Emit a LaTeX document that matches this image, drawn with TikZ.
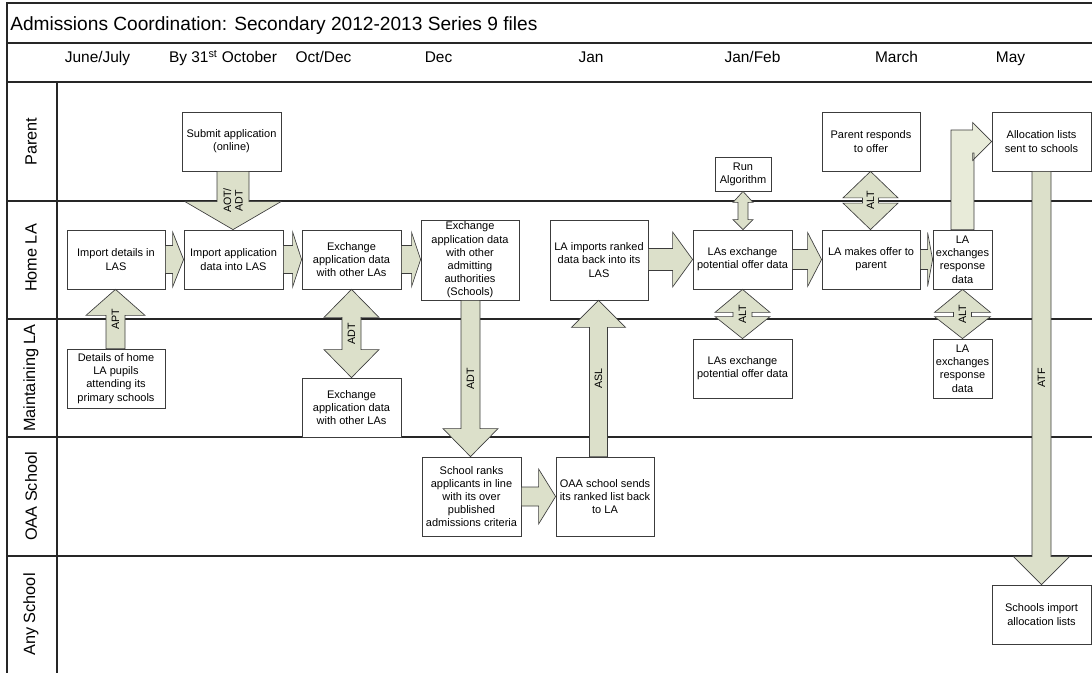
\documentclass[tikz,border=0pt]{standalone}
\usepackage{fontspec}
\setmainfont{Liberation Sans}
\usetikzlibrary{calc}
\definecolor{arrowfill}{HTML}{DCE0CA}
\definecolor{arrowfillb}{HTML}{E8EBD9}
\definecolor{edgecol}{HTML}{3C3C3C}
\definecolor{linecol}{HTML}{262626}
\tikzset{
  procbox/.style 2 args={draw=edgecol, line width=0.6pt, fill=white, align=center,
    inner sep=1pt, minimum width=#1*0.75pt, minimum height=#2*0.75pt,
    font=\fontsize{8.25}{9.9}\selectfont},
  barrow/.style={draw=edgecol, fill=arrowfill, line width=0.5pt, line join=miter},
  barrowlight/.style={barrow, fill=arrowfillb},
  lanelabel/.style={rotate=90, font=\fontsize{12.2}{14}\selectfont},
  hdr/.style={font=\fontsize{11.6}{14}\selectfont, anchor=base},
  alabel/.style={rotate=90, font=\fontsize{8}{8.6}\selectfont, align=center, inner sep=0pt},
  laneline/.style={draw=linecol, line width=1.1pt},
}
% vertical single block arrow: x, start anchor, tip anchor, shaft half, head half, signed head offset, label
\newcommand\vsingle[7]{%
  \coordinate (vx) at (#1,0);
  \draw[barrow] ($(vx|-#2)+(-#4,0)$) -- ($(vx|-#3)+(-#4,#6)$) -- ($(vx|-#3)+(-#5,#6)$)
    -- (vx|-#3) -- ($(vx|-#3)+(#5,#6)$) -- ($(vx|-#3)+(#4,#6)$) -- ($(vx|-#2)+(#4,0)$) -- cycle;
  \node[alabel] at ($(vx|-#2)!0.5!(vx|-#3)$) {#7};}
% vertical double block arrow: x, top anchor, bottom anchor, shaft half, head half, top head len, bottom head len, label
\newcommand\vdouble[8]{%
  \coordinate (vx) at (#1,0);
  \draw[barrow] (vx|-#2) -- ($(vx|-#2)+(#5,#6)$) -- ($(vx|-#2)+(#4,#6)$) -- ($(vx|-#3)+(#4,-#7)$)
    -- ($(vx|-#3)+(#5,-#7)$) -- (vx|-#3) -- ($(vx|-#3)+(-#5,-#7)$) -- ($(vx|-#3)+(-#4,-#7)$)
    -- ($(vx|-#2)+(-#4,#6)$) -- ($(vx|-#2)+(-#5,#6)$) -- cycle;
  \node[alabel] at ($(vx|-#2)!0.5!(vx|-#3)$) {#8};}
% horizontal single block arrow (to the right): y, start anchor, tip anchor, shaft half, head half, head length
\newcommand\hsingle[6]{%
  \coordinate (hy) at (0,#1);
  \draw[barrow] ($(#2|-hy)+(0,-#4)$) -- ($(#3|-hy)+(-#6,-#4)$) -- ($(#3|-hy)+(-#6,-#5)$)
    -- (#3|-hy) -- ($(#3|-hy)+(-#6,#5)$) -- ($(#3|-hy)+(-#6,#4)$) -- ($(#2|-hy)+(0,#4)$) -- cycle;}
\begin{document}
\begin{tikzpicture}[x=0.75pt,y=-0.75pt]
\useasboundingbox (0,0) rectangle (1092,673);
% frame and lanes
\draw[laneline] (7,673) -- (7,3) -- (1092,3);
\draw[laneline] (7,43) -- (1092,43);
\draw[laneline] (7,82) -- (1092,82);
\draw[laneline] (57,82) -- (57,673);
\foreach \yy in {201,319,437,556} \draw[laneline] (7,\yy) -- (1092,\yy);
% title and header
\node[anchor=base west, inner sep=0pt, font=\fontsize{14.35}{16}\selectfont] (title) at (10,30.5)
  {Admissions Coordination: Secondary 2012-2013 Series 9 files};
\node[hdr] (h1) at (97.5,63) {June/July};
\node[hdr] (h2) at (223,63) {By 31\textsuperscript{st} October};
\node[hdr] (h3) at (323.5,63) {Oct/Dec};
\node[hdr] (h4) at (438.5,63) {Dec};
\node[hdr] (h5) at (591,63) {Jan};
\node[hdr] (h6) at (752.5,63) {Jan/Feb};
\node[hdr] (h7) at (896.5,63) {March};
\node[hdr] (h8) at (1010.5,63) {May};
% lane labels
\node[lanelabel] (l1) at (31,141.5) {Parent};
\node[lanelabel] (l2) at (31,258) {Home LA};
\node[lanelabel] (l3) at (31,378) {Maintaining LA};
\node[lanelabel] (l4) at (31,496.5) {OAA School};
\node[lanelabel] (l5) at (31,614.5) {Any School};
% boxes
\node[procbox={99}{59}] (sub) at (231.5,141.5) {Submit application\\(online)};
\node[procbox={98}{59}] (imd) at (116,259.5) {Import details in\\LAS};
\node[procbox={99}{59}] (ima) at (233.5,259.5) {Import application\\data into LAS};
\node[procbox={99}{59}] (exh) at (351.5,259.5) {Exchange\\application data\\with other LAs};
\node[procbox={98}{80}] (exa) at (470,260) {Exchange\\application data\\with other\\admitting\\authorities\\(Schools)};
\node[procbox={98}{80}] (lai) at (599,260) {LA imports ranked\\data back into its\\LAS};
\node[procbox={56}{34}] (run) at (743,174) {Run\\Algorithm};
\node[procbox={99}{59}] (lxh) at (742.5,259.5) {LAs exchange\\potential offer data};
\node[procbox={98}{59}] (pro) at (871,141.5) {Parent responds\\to offer};
\node[procbox={99}{59}] (alloc) at (1041.5,141.5) {Allocation lists\\sent to schools};
\node[procbox={98}{59}] (lmo) at (871,259.5) {LA makes offer to\\parent};
\node[procbox={59}{59}] (ler) at (962.5,259.5) {LA\\exchanges\\response\\data};
\node[procbox={98}{59}] (det) at (116,378.5) {Details of home\\LA pupils\\attending its\\primary schools};
\node[procbox={99}{59}] (exm) at (351.5,407.5) {Exchange\\application data\\with other LAs};
\node[procbox={99}{79}] (srk) at (471.5,496.5) {School ranks\\applicants in line\\with its over\\published\\admissions criteria};
\node[procbox={98}{79}] (oaa) at (605,496.5) {OAA school sends\\its ranked list back\\to LA};
\node[procbox={99}{59}] (lxm) at (742.5,368.5) {LAs exchange\\potential offer data};
\node[procbox={59}{59}] (lem) at (962.5,368.5) {LA\\exchanges\\response\\data};
\node[procbox={99}{59}] (sia) at (1041.5,614.5) {Schools import\\allocation lists};
% vertical single arrows
\vsingle{233}{sub.south}{ima.north}{16}{48}{-28}{AOT/\\ADT}
\vsingle{115.5}{det.north}{imd.south}{9.5}{29.5}{26}{APT}
\vsingle{470.5}{exa.south}{srk.north}{9.5}{27.5}{-28}{ADT}
\vsingle{598.5}{oaa.north}{lai.south}{9}{27}{27}{ASL}
\vsingle{1041.5}{alloc.south}{sia.north}{9.5}{28}{-28}{ATF}
% vertical double arrows
\vdouble{351.5}{exh.south}{exm.north}{9.5}{27.5}{28}{28}{ADT}
\vdouble{743}{run.south}{lxh.north}{5}{10}{11}{10}{}
\vdouble{870.5}{pro.south}{lmo.north}{8}{27.5}{26.5}{26.5}{ALT}
\vdouble{742.5}{lxh.south}{lxm.north}{9.5}{27.5}{23}{22}{ALT}
\vdouble{962.5}{ler.south}{lem.north}{9}{28}{23}{22}{ALT}
% horizontal arrows
\hsingle{259.5}{imd.east}{ima.west}{14}{27.5}{11}
\hsingle{259.5}{ima.east}{exh.west}{14}{27.5}{9}
\hsingle{259.5}{exh.east}{exa.west}{14}{27}{9}
\hsingle{259.5}{lai.east}{lxh.west}{11}{27.5}{20}
\hsingle{259.5}{lxh.east}{lmo.west}{10}{27}{14}
\hsingle{259.5}{lmo.east}{ler.west}{10}{27}{5}
\hsingle{496.5}{srk.east}{oaa.west}{9.5}{27.5}{17}
% bent arrow from LA exchanges response data to allocation lists
\coordinate (bx) at (962.5,141.5);
\draw[barrowlight] ($(bx|-ler.north)+(-11.5,0)$) -- ($(bx)+(-11.5,-11.5)$)
  -- ($(alloc.west|-bx)+(-19,-11.5)$) -- ($(alloc.west|-bx)+(-19,-19)$) -- (alloc.west|-bx)
  -- ($(alloc.west|-bx)+(-19,19)$) -- ($(alloc.west|-bx)+(-19,11.5)$) -- ($(bx)+(11.5,11.5)$)
  -- ($(bx|-ler.north)+(11.5,0)$) -- cycle;
\end{tikzpicture}
\end{document}
